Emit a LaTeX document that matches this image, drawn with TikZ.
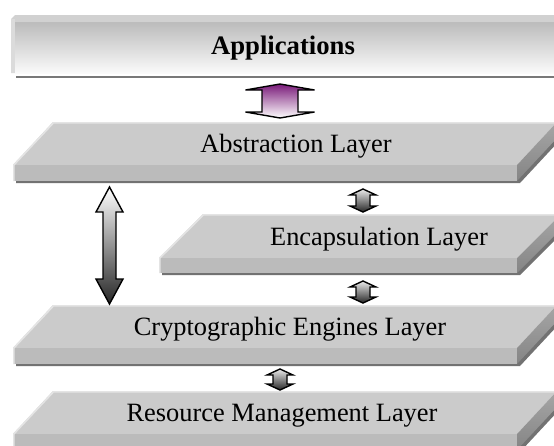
\documentclass[tikz,border=0pt]{standalone}
\usepackage{fontspec}
\setmainfont{Liberation Serif}
\usetikzlibrary{calc}
\definecolor{topface}{HTML}{CBCBCB}
\definecolor{frontface}{HTML}{BBBBBB}
\definecolor{sideface}{HTML}{9C9C9C}
\definecolor{edgelight}{HTML}{E4E4E4}
\definecolor{slabshadow}{HTML}{727272}
\definecolor{plum}{HTML}{7A1B7A}
\tikzset{
  layertext/.style={font=\fontsize{26.4}{30}\selectfont, inner sep=0pt, anchor=base},
  arrowline/.style={draw=black, line width=1.4pt, line join=miter},
}
% slab: #1 front left x, #2 top y, #3 front right x, #4 horizontal offset, #5 depth, #6 front height
\newcommand\drawslab[6]{%
  \fill[slabshadow] ($(#1+3,#2+#5+2)$) -- ($(#3+3,#2+#5+2)$) -- ($(#3+#4+3,#2+2)$)
     -- ($(#3+#4+3,#2+#6+2)$) -- ($(#3+3,#2+#5+#6+2)$) -- ($(#1+3,#2+#5+#6+2)$) -- cycle;
  \fill[topface] ($(#1+#4,#2)$) -- ($(#3+#4,#2)$) -- ($(#3,#2+#5)$) -- ($(#1,#2+#5)$) -- cycle;
  \fill[frontface] ($(#1,#2+#5)$) rectangle ($(#3,#2+#5+#6)$);
  \shade[top color=sideface!90!white, bottom color=sideface!85!black]
     ($(#3,#2+#5)$) -- ($(#3+#4,#2)$) -- ($(#3+#4,#2+#6)$) -- ($(#3,#2+#5+#6)$) -- cycle;
  \draw[edgelight, line width=1.6pt] ($(#1+0.8,#2+#5+#6)$) -- ($(#1+0.8,#2+#5)$)
     -- ($(#1+#4+0.5,#2+0.8)$) -- ($(#3+#4,#2+0.8)$);
}
% vertical double block arrow: #1 centre x, #2 top y, #3 bottom y, #4 shaft half width,
% #5 head half width, #6 head length, #7 shading options
\newcommand\blockarrow[7]{%
  \path[arrowline, #7] (#1,#2) -- ($(#1+#5,#2+#6)$) -- ($(#1+#4,#2+#6)$) -- ($(#1+#4,#3-#6)$)
    -- ($(#1+#5,#3-#6)$) -- (#1,#3) -- ($(#1-#5,#3-#6)$) -- ($(#1-#4,#3-#6)$)
    -- ($(#1-#4,#2+#6)$) -- ($(#1-#5,#2+#6)$) -- cycle;
}
\begin{document}
\begin{tikzpicture}[x=1pt, y=-1pt]
\useasboundingbox (0,0) rectangle (554,445);
\fill[white] (0,0) rectangle (554,445);
\begin{scope}
\clip (0,0) rectangle (554,445);

% Applications banner
\fill[black!53] (16,75.5) rectangle (560,78);
\shade[top color=black!27, bottom color=white!98!black] (11,21) rectangle (560,73);
\fill[black!18] (15,15) -- (560,15) -- (560,22) -- (11,22) -- (11,19) -- cycle;
\fill[black!14] (11,19) rectangle (14.5,73);
\node[layertext, font=\fontsize{26.7}{30}\selectfont\bfseries] (apps) at (283,54) {Applications};

% layer slabs
\drawslab{13}{122}{517}{40}{43}{16}
\node[layertext] (abst) at (296,152) {Abstraction Layer};

\drawslab{159}{214}{517}{44}{44}{15}
\node[layertext] (encap) at (379,245) {Encapsulation Layer};

\drawslab{13}{305}{517}{40}{43}{16}
\node[layertext] (crypto) at (290,335) {Cryptographic Engines Layer};

\drawslab{13}{391}{517}{40}{43}{16}
\node[layertext] (res) at (282,421) {Resource Management Layer};

% block arrows between the layers
\blockarrow{280}{84}{118}{18}{34.5}{6}{top color=plum, bottom color=white}
\blockarrow{109.5}{187}{304}{6.5}{13.5}{25}{top color=white, bottom color=black!85}
\blockarrow{363}{189}{212}{7}{13}{6}{top color=black!8, bottom color=black!85}
\blockarrow{363}{281}{303}{7}{13}{6}{top color=black!8, bottom color=black!85}
\blockarrow{280}{369}{390}{7}{13}{6}{top color=black!8, bottom color=black!85}
\end{scope}
\end{tikzpicture}
\end{document}
